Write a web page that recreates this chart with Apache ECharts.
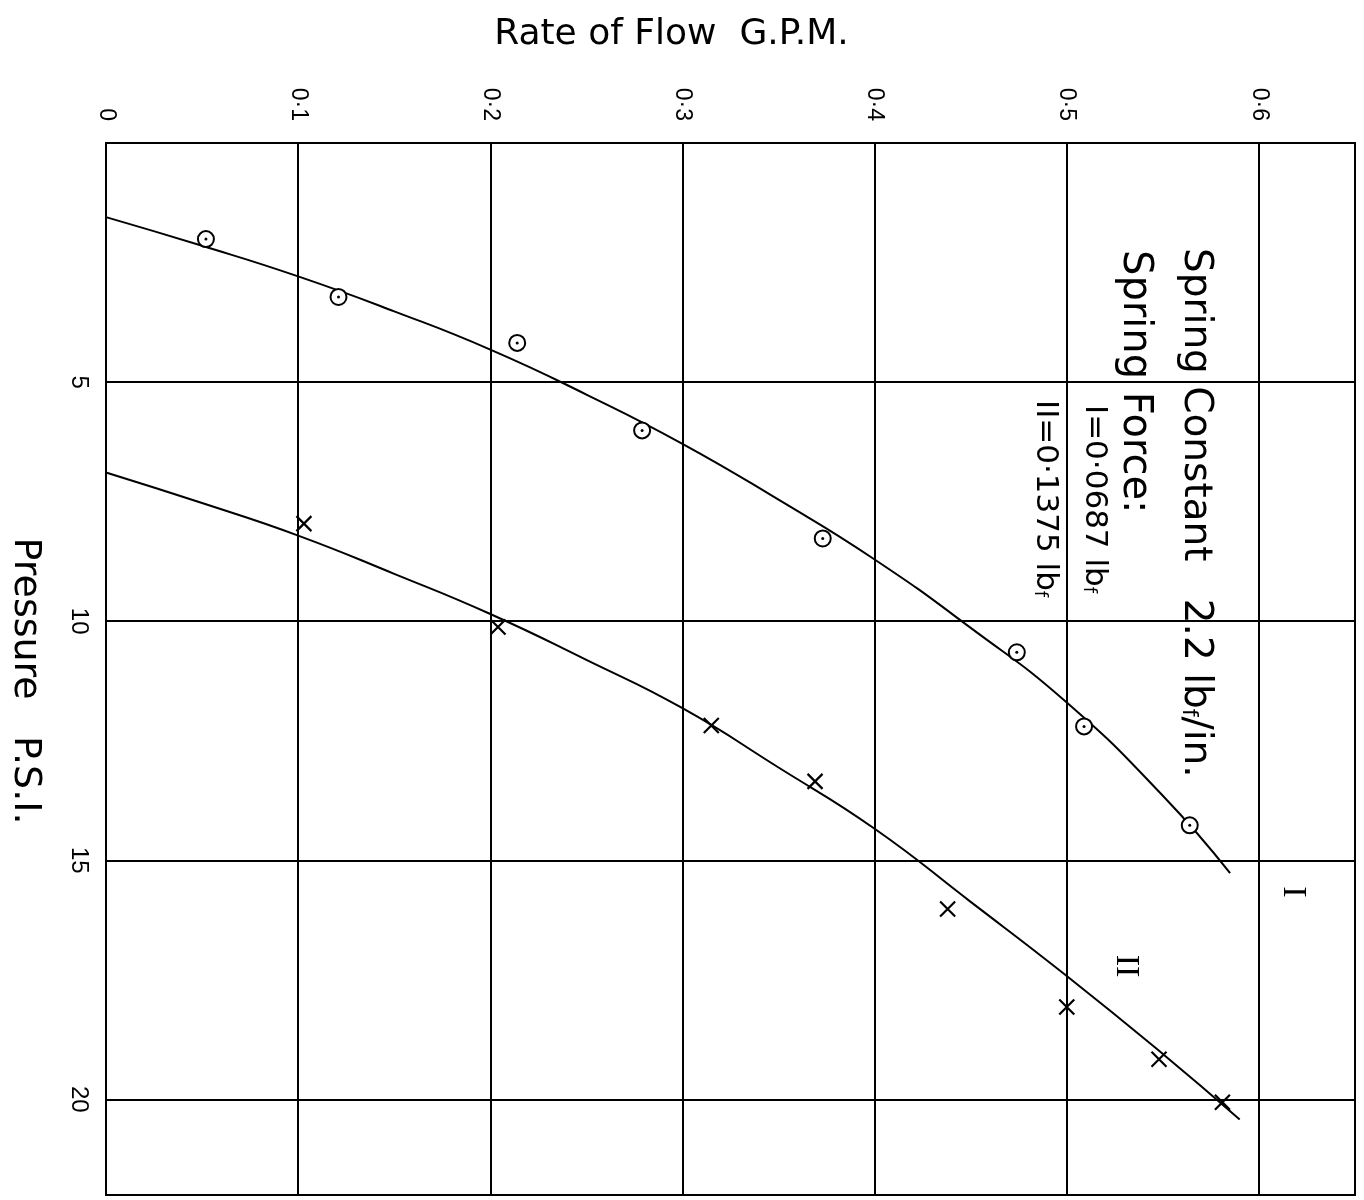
<!DOCTYPE html>
<html>
<head>
<meta charset="utf-8">
<script src="https://cdn.jsdelivr.net/npm/echarts@6/dist/echarts.min.js"></script>
<style>
  html, body { margin: 0; padding: 0; background: #fff; }
  #chart { width: 1364px; height: 1200px; }
</style>
</head>
<body>
<div id="chart"></div>
<script>
// measured points, curve I (circles) and curve II (crosses)
var flowI = [0.052, 0.121, 0.214, 0.279, 0.373, 0.474, 0.509, 0.564];
var pressI = [2.01, 3.22, 4.18, 6.01, 8.27, 10.65, 12.20, 14.27];
var flowII = [0.103, 0.204, 0.315, 0.369, 0.438, 0.500, 0.548, 0.581];
var pressII = [7.96, 10.12, 12.18, 13.35, 16.02, 18.07, 19.16, 20.06];

// hand drawn fitted curves
var fitFlowI = [0, 0.05, 0.1, 0.15, 0.2, 0.25, 0.3, 0.35, 0.4, 0.45, 0.5, 0.55, 0.585];
var fitPressI = [1.55, 2.15, 2.79, 3.52, 4.32, 5.26, 6.29, 7.46, 8.71, 10.14, 11.70, 13.65, 15.27];
var fitFlowII = [0, 0.05, 0.1, 0.15, 0.2, 0.25, 0.3, 0.35, 0.4, 0.45, 0.5, 0.55, 0.59];
var fitPressII = [6.89, 7.53, 8.21, 9.01, 9.85, 10.81, 11.82, 13.06, 14.34, 15.87, 17.42, 19.05, 20.42];

var flowTicks = ['0', '0·1', '0·2', '0·3', '0·4', '0·5', '0·6'];

function zip(a, b) {
    var out = [];
    for (var i = 0; i < a.length; i++) out.push([a[i], b[i]]);
    return out;
}

var font = 'DejaVu Sans';
var tickFont = 'Liberation Sans';
var ink = '#000';

// text turned a quarter clockwise, read from top to bottom like the sheet
function rotText(x, y, text, size, align, family, subSize) {
    return {
        type: 'text', x: x, y: y, rotation: -Math.PI / 2,
        style: {
            text: text,
            fontFamily: family || font, fontSize: size, fill: ink,
            align: align, verticalAlign: 'middle',
            textAlign: align, textVerticalAlign: 'middle',
            rich: { s: { fontFamily: font, fontSize: subSize || 14, fill: ink, padding: [Math.round(size / 3), 0, 0, 0] } }
        }
    };
}

var chart = echarts.init(document.getElementById('chart'));
var option = {
    backgroundColor: '#fff',
    animation: false,
    grid: {
        left: 106, right: 9, top: 143, bottom: 5,
        containLabel: false,
        outerBoundsMode: 'none',
        show: true, borderColor: ink, borderWidth: 2
    },
    xAxis: {
        type: 'value',
        position: 'top',
        min: 0, max: 0.65, interval: 0.1,
        name: 'Rate of Flow  G.P.M.',
        nameLocation: 'middle',
        nameGap: 90,
        nameTextStyle: { fontFamily: font, fontSize: 36, color: ink, padding: [0, 118, 0, 0] },
        axisLine: { show: true, lineStyle: { color: ink, width: 2 } },
        axisTick: { show: false },
        splitLine: { show: true, lineStyle: { color: ink, width: 2 } },
        axisLabel: {
            rotate: -90,
            margin: 22,
            fontFamily: tickFont, fontSize: 23, color: ink,
            showMaxLabel: false,
            formatter: function (v) { return flowTicks[Math.round(v * 10)] || ''; }
        }
    },
    yAxis: {
        type: 'value',
        inverse: true,
        min: 0, max: 22, interval: 5,
        name: 'Pressure   P.S.I.',
        nameLocation: 'middle',
        nameRotate: -90,
        nameGap: 62,
        nameTextStyle: { fontFamily: font, fontSize: 38, color: ink, padding: [0, 0, 0, 24] },
        axisLine: { show: true, lineStyle: { color: ink, width: 2 } },
        axisTick: { show: false },
        splitLine: { show: true, lineStyle: { color: ink, width: 2 } },
        axisLabel: {
            rotate: -90,
            margin: 15,
            fontFamily: tickFont, fontSize: 24, color: ink,
            showMinLabel: false,
            showMaxLabel: false
        }
    },
    series: [
        {
            name: 'I fit', type: 'line', data: zip(fitFlowI, fitPressI),
            smooth: 0.5, showSymbol: false, silent: true,
            lineStyle: { color: ink, width: 2 }
        },
        {
            name: 'II fit', type: 'line', data: zip(fitFlowII, fitPressII),
            smooth: 0.5, showSymbol: false, silent: true,
            lineStyle: { color: ink, width: 2 }
        },
        {
            name: 'I', type: 'scatter', data: zip(flowI, pressI),
            symbol: 'circle', symbolSize: 16, z: 3,
            itemStyle: { color: '#fff', borderColor: ink, borderWidth: 2, opacity: 1 }
        },
        {
            name: 'I centre', type: 'scatter', data: zip(flowI, pressI),
            symbol: 'circle', symbolSize: 3, z: 4,
            itemStyle: { color: ink, opacity: 1 }
        },
        {
            name: 'II', type: 'scatter', data: zip(flowII, pressII),
            symbol: 'path://M0,0L10,10M10,0L0,10', symbolSize: 15, z: 3,
            itemStyle: { color: 'none', borderColor: ink, borderWidth: 2.2, opacity: 1 }
        }
    ],
    graphic: [
        rotText(1195, 248, 'Spring Constant   2.2 lb{s|f}/in.', 39, 'left', null, 22),
        rotText(1134, 250, 'Spring Force:', 40, 'left'),
        rotText(1094, 405, 'I=0·0687 lb{s|f}', 31, 'left', null, 18),
        rotText(1045, 400, 'II=0·1375 lb{s|f}', 31, 'left', null, 18),
        rotText(1293, 892, 'I', 34, 'center', 'Liberation Serif'),
        rotText(1126, 966, 'II', 34, 'center', 'Liberation Serif')
    ]
};
chart.setOption(option);
</script>
</body>
</html>
